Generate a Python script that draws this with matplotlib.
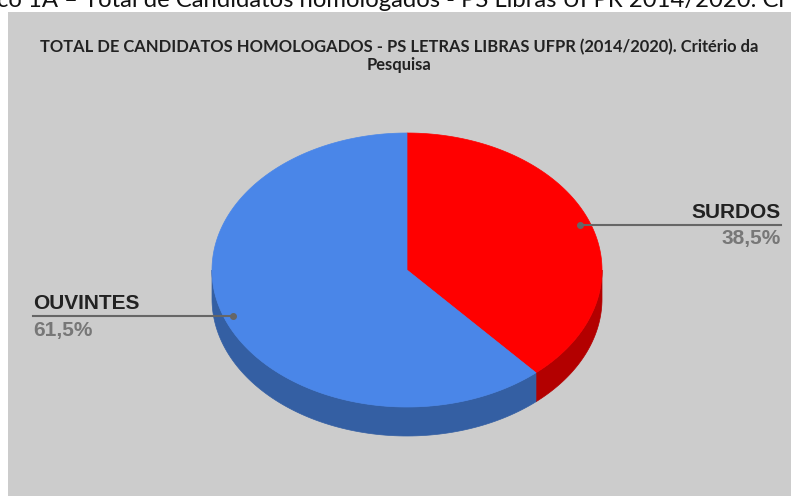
import numpy as np
import matplotlib.pyplot as plt
from matplotlib.patches import Polygon, Rectangle

categories = ["SURDOS", "OUVINTES"]
values = [38.5, 61.5]
pct_labels = ["38,5%", "61,5%"]
top_colors = ["#FF0000", "#4A86E8"]
side_colors = ["#B30000", "#345FA3"]

title = "TOTAL DE CANDIDATOS HOMOLOGADOS - PS LETRAS LIBRAS UFPR (2014/2020). Critério da\nPesquisa"
caption = "co 1A – Total de Candidatos homologados - PS Libras UFPR 2014/2020. Cr"

W, H = 791, 496
fig = plt.figure(figsize=(W / 100, H / 100), dpi=100)
ax = fig.add_axes([0, 0, 1, 1])
ax.set_xlim(0, W)
ax.set_ylim(H, 0)
ax.axis("off")

# gray panel
ax.add_patch(Rectangle((8, 12), W - 8, H - 12, facecolor="#CCCCCC", edgecolor="none"))

# cut-off caption of the document above the chart
ax.text(-3, 7, caption, fontsize=17.2, family="Lato", color="#111111",
        ha="left", va="baseline", clip_on=True)

ax.text(399, 56, title, fontsize=11.9, family="Lato", weight="bold",
        color="#222222", ha="center", va="center", linespacing=1.2)

# 3d pie geometry
cx, cy = 407, 270
a, b = 195, 137
depth = 29


def pt(theta, dy=0):
    return cx + a * np.cos(theta), cy - b * np.sin(theta) + dy


fracs = np.array(values) / sum(values)
start = 90.0
ranges = []
for f in fracs:
    end = start - 360 * f
    ranges.append((end, start))
    start = end

# side walls (front half only, angles -180..0)
for (lo, hi), col in zip(ranges, side_colors):
    for shift in (0, -360, 360):
        l2, h2 = max(lo + shift, -180), min(hi + shift, 0)
        if h2 <= l2:
            continue
        th = np.radians(np.linspace(l2, h2, 100))
        xs, ys = pt(th)
        xb, yb = pt(th[::-1], depth)
        poly = np.column_stack([np.concatenate([xs, xb]), np.concatenate([ys, yb])])
        ax.add_patch(Polygon(poly, closed=True, facecolor=col, edgecolor=col, lw=0.5))

# top faces
for (lo, hi), col in zip(ranges, top_colors):
    th = np.radians(np.linspace(lo, hi, 300))
    xs, ys = pt(th)
    poly = np.column_stack([np.concatenate([[cx], xs]), np.concatenate([[cy], ys])])
    ax.add_patch(Polygon(poly, closed=True, facecolor=col, edgecolor=col, lw=0.5))

# labels with leader lines
lab_font = dict(family="Liberation Sans", weight="bold", fontsize=15)
# SURDOS on the right
ax.plot([580, 781], [225, 225], color="#666666", lw=1.5)
ax.plot(580, 225, "o", color="#666666", ms=4)
ax.text(781, 218, categories[0], color="#222222", ha="right", va="baseline", **lab_font)
ax.text(781, 244, pct_labels[0], color="#777777", ha="right", va="baseline", **lab_font)
# OUVINTES on the left
ax.plot([33, 233], [316, 316], color="#666666", lw=1.5)
ax.plot(233, 316, "o", color="#666666", ms=4)
ax.text(33, 309, categories[1], color="#222222", ha="left", va="baseline", **lab_font)
ax.text(33, 336, pct_labels[1], color="#777777", ha="left", va="baseline", **lab_font)

fig.savefig("out.png", dpi=100)
